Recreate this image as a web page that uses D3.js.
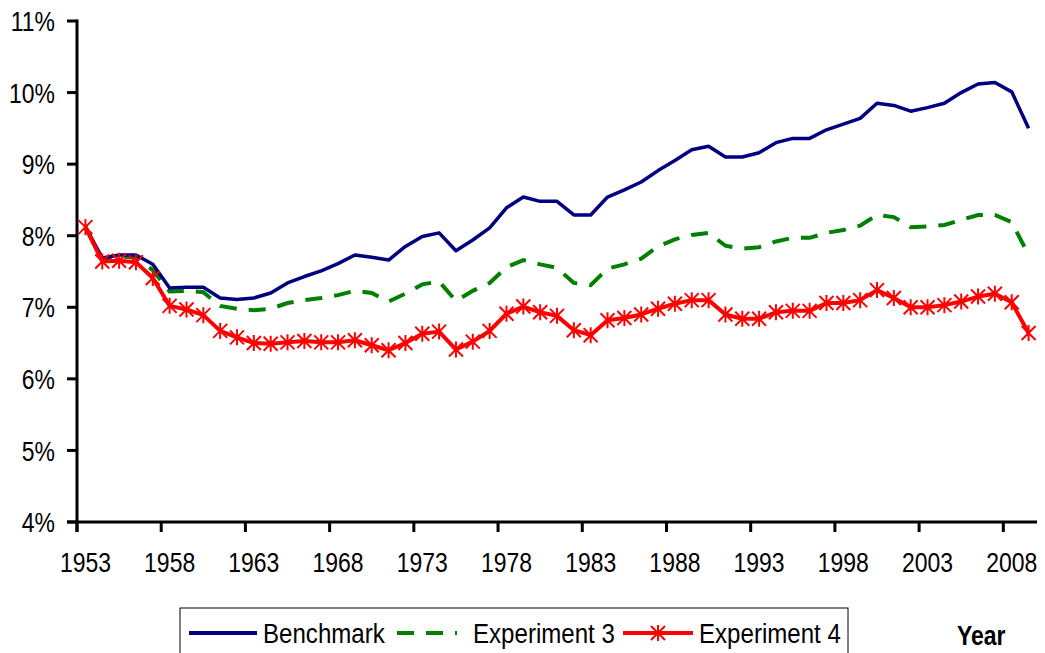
<!DOCTYPE html>
<html>
<head>
<meta charset="utf-8">
<script src="https://cdn.jsdelivr.net/npm/d3@7"></script>
<style>
  html, body { margin: 0; padding: 0; background: #fff; overflow: hidden; }
  svg text { font-family: "Liberation Sans", Arial, sans-serif; fill: #000; }
</style>
</head>
<body>
<div id="viewportContainer"></div>
<script>
/* --- data --- */
const years = d3.range(1953, 2010);
const yTicks = [4, 5, 6, 7, 8, 9, 10, 11];
const seriesNames = ["Benchmark", "Experiment 3", "Experiment 4"];

const benchmark = [
  8.12, 7.69, 7.73, 7.73, 7.6, 7.27, 7.28, 7.28, 7.13, 7.11,
  7.13, 7.2, 7.34, 7.43, 7.51, 7.61, 7.73, 7.7, 7.66, 7.85,
  7.99, 8.04, 7.79, 7.94, 8.11, 8.39, 8.54, 8.48, 8.48, 8.29,
  8.29, 8.54, 8.64, 8.75, 8.91, 9.05, 9.2, 9.25, 9.1, 9.1,
  9.16, 9.3, 9.36, 9.36, 9.48, 9.56, 9.64, 9.85, 9.82, 9.74,
  9.79, 9.85, 10.0, 10.12, 10.14, 10.01, 9.5
];
const experiment3 = [
  8.12, 7.67, 7.71, 7.7, 7.52, 7.22, 7.23, 7.21, 7.02, 6.98,
  6.96, 6.98, 7.06, 7.1, 7.13, 7.17, 7.23, 7.2, 7.08, 7.19,
  7.32, 7.36, 7.09, 7.23, 7.34, 7.56, 7.66, 7.6, 7.55, 7.34,
  7.31, 7.54, 7.6, 7.68, 7.85, 7.95, 8.01, 8.04, 7.86, 7.82,
  7.84, 7.92, 7.97, 7.97, 8.04, 8.08, 8.14, 8.29, 8.26, 8.12,
  8.13, 8.15, 8.22, 8.29, 8.29, 8.19, 7.73
];
const experiment4 = [
  8.12, 7.64, 7.65, 7.63, 7.41, 7.02, 6.97, 6.89, 6.67, 6.58,
  6.5, 6.49, 6.51, 6.53, 6.51, 6.51, 6.54, 6.47, 6.4, 6.5,
  6.63, 6.66, 6.41, 6.52, 6.67, 6.91, 7.01, 6.93, 6.88, 6.68,
  6.61, 6.82, 6.85, 6.9, 6.98, 7.05, 7.1, 7.1, 6.9, 6.84,
  6.84, 6.93, 6.95, 6.95, 7.06, 7.06, 7.1, 7.24, 7.13, 7.0,
  7.0, 7.03, 7.08, 7.15, 7.19, 7.07, 6.64
];

/* --- viewport --- */
const width = 1045, height = 653;
const plot = { left: 77, right: 1037, top: 21, bottom: 522 };

const svg = d3.select("#viewportContainer")
  .append("svg")
  .attr("width", width)
  .attr("height", height);

const x = d3.scaleBand().domain(years).range([plot.left, plot.right]);
const y = d3.scaleLinear().domain([4, 11]).range([plot.bottom, plot.top]);
const cx = (i) => x(years[i]) + x.bandwidth() / 2;

// text placed at (tx,ty) then squeezed horizontally (narrow font look)
let narrowText = function (sel, tx, ty, k) {
  const s = k || 0.82;
  return sel.attr("x", 0).attr("y", 0)
    .attr("transform", (d, i) => {
      const a = typeof tx === "function" ? tx(d, i) : tx;
      const b = typeof ty === "function" ? ty(d, i) : ty;
      return `translate(${a},${b}) scale(${s},1)`;
    });
};

/* --- axes --- */
const axisG = svg.append("g");

// y axis
axisG.append("line")
  .attr("x1", plot.left).attr("x2", plot.left)
  .attr("y1", plot.top - 1.5).attr("y2", plot.bottom + 10)
  .attr("stroke", "#000").attr("stroke-width", 3);

axisG.selectAll(".ytick")
  .data(yTicks)
  .enter()
  .append("line")
  .attr("x1", plot.left - 10).attr("x2", plot.left)
  .attr("y1", (d) => y(d)).attr("y2", (d) => y(d))
  .attr("stroke", "#000").attr("stroke-width", 3);

axisG.selectAll(".ylab")
  .data(yTicks)
  .enter()
  .append("text")
  .call(narrowText, 55, (d) => y(d))
  .attr("dy", "0.36em")
  .attr("text-anchor", "end")
  .attr("font-size", "28px")
  .text((d) => d + "%");

// x axis
axisG.append("line")
  .attr("x1", plot.left - 10).attr("x2", plot.right)
  .attr("y1", plot.bottom).attr("y2", plot.bottom)
  .attr("stroke", "#000").attr("stroke-width", 3);

const labelYears = years.filter((d) => (d - 1953) % 5 === 0);

axisG.selectAll(".xtick")
  .data(labelYears)
  .enter()
  .append("line")
  .attr("x1", (d) => x(d)).attr("x2", (d) => x(d))
  .attr("y1", plot.bottom).attr("y2", plot.bottom + 10)
  .attr("stroke", "#000").attr("stroke-width", 3);

axisG.selectAll(".xlab")
  .data(labelYears)
  .enter()
  .append("text")
  .call(narrowText, (d) => x(d) + x.bandwidth() / 2, 572)
  .attr("text-anchor", "middle")
  .attr("font-size", "28px")
  .text((d) => d);

/* --- lines --- */
const line = d3.line()
  .x((d, i) => cx(i))
  .y((d) => y(d));

svg.append("path")
  .datum(experiment3)
  .attr("fill", "none")
  .attr("stroke", "#008000")
  .attr("stroke-width", 4)
  .attr("stroke-dasharray", "17,12")
  .attr("d", line);

svg.append("path")
  .datum(benchmark)
  .attr("fill", "none")
  .attr("stroke", "#000080")
  .attr("stroke-width", 3.5)
  .attr("stroke-linejoin", "round")
  .attr("d", line);

svg.append("path")
  .datum(experiment4)
  .attr("fill", "none")
  .attr("stroke", "#ff0000")
  .attr("stroke-width", 4)
  .attr("stroke-linejoin", "round")
  .attr("d", line);

// star markers
const starPath = "M0,-8L0,8M-7,-7L7,7M-7,7L7,-7";

svg.selectAll(".star")
  .data(experiment4)
  .enter()
  .append("path")
  .attr("transform", (d, i) => `translate(${cx(i)},${y(d)})`)
  .attr("d", starPath)
  .attr("fill", "none")
  .attr("stroke", "#ff0000")
  .attr("stroke-width", 2);

/* --- legend --- */
const legend = svg.append("g");

legend.append("rect")
  .attr("x", 180).attr("y", 608)
  .attr("width", 668).attr("height", 60)
  .attr("fill", "#fff")
  .attr("stroke", "#000")
  .attr("stroke-width", 1);

const legendItems = [
  { name: seriesNames[0], color: "#000080", dash: null, star: false, x1: 189, x2: 257, tx: 263 },
  { name: seriesNames[1], color: "#008000", dash: "17,12", star: false, x1: 397, x2: 457, tx: 473 },
  { name: seriesNames[2], color: "#ff0000", dash: null, star: true, x1: 623, x2: 693, tx: 699 }
];

legendItems.forEach((d) => {
  legend.append("line")
    .attr("x1", d.x1).attr("x2", d.x2)
    .attr("y1", 633).attr("y2", 633)
    .attr("stroke", d.color)
    .attr("stroke-width", 4)
    .attr("stroke-dasharray", d.dash);
  if (d.star) {
    legend.append("path")
      .attr("transform", `translate(${(d.x1 + d.x2) / 2},633)`)
      .attr("d", starPath)
      .attr("fill", "none")
      .attr("stroke", d.color)
      .attr("stroke-width", 2);
  }
  legend.append("text")
    .call(narrowText, d.tx, 643, 0.86)
    .attr("font-size", "28px")
    .text(d.name);
});

svg.append("text")
  .call(narrowText, 957, 645)
  .attr("font-size", "28px")
  .attr("font-weight", "bold")
  .text("Year");
</script>
</body>
</html>
